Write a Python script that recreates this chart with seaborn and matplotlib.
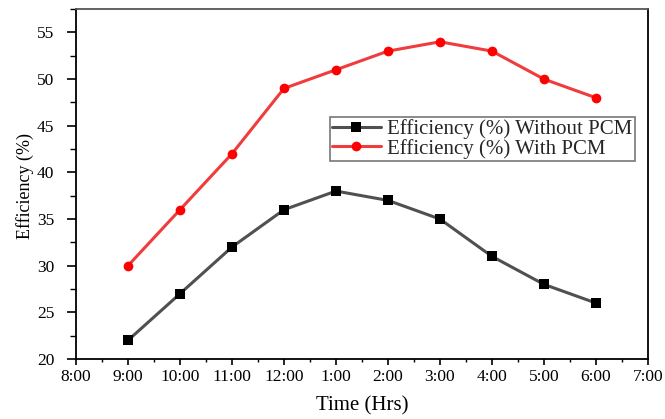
import matplotlib
matplotlib.use("Agg")
import matplotlib.pyplot as plt
from matplotlib.ticker import MultipleLocator
import seaborn as sns
import pandas as pd

tick_labels = ["8:00", "9:00", "10:00", "11:00", "12:00", "1:00", "2:00",
               "3:00", "4:00", "5:00", "6:00", "7:00"]
hours = ["9:00", "10:00", "11:00", "12:00", "1:00", "2:00", "3:00",
         "4:00", "5:00", "6:00"]
without_pcm = [22, 27, 32, 36, 38, 37, 35, 31, 28, 26]
with_pcm = [30, 36, 42, 49, 51, 53, 54, 53, 50, 48]

sns.set_theme(style="ticks")
plt.rcParams["font.family"] = ["Liberation Serif", "DejaVu Serif"]

pos = [tick_labels.index(h) for h in hours]
df = pd.concat([
    pd.DataFrame({"x": pos, "eff": without_pcm, "series": "Efficiency (%) Without PCM"}),
    pd.DataFrame({"x": pos, "eff": with_pcm, "series": "Efficiency (%) With PCM"}),
])

fig = plt.figure(figsize=(6.65, 4.19), dpi=100)
ax = fig.add_axes([0.1143, 0.1432, 0.860, 0.835])

marker_colors = ["black", "#ff0000"]
sns.lineplot(data=df, x="x", y="eff", hue="series", style="series",
             palette=["#505050", "#f03c3c"], markers=["s", "o"], dashes=False,
             linewidth=2.2, markersize=7, markeredgewidth=0, ax=ax)
for line, mc in zip(ax.lines[:2], marker_colors):
    line.set_markerfacecolor(mc)
    line.set_markeredgecolor(mc)

ax.set_xlim(0, 11)
ax.set_ylim(20, 57.5)
ax.set_xticks(range(len(tick_labels)))
ax.set_xticklabels(tick_labels)
ax.xaxis.set_minor_locator(MultipleLocator(0.5))
ax.yaxis.set_major_locator(MultipleLocator(5))
ax.yaxis.set_minor_locator(MultipleLocator(2.5))
ax.tick_params(axis="x", which="major", direction="out", length=4.5, width=1.2,
               labelsize=12.5, pad=3, color="black", labelcolor="black")
ax.tick_params(axis="x", which="minor", direction="out", length=2.5, width=1.0,
               color="black")
ax.tick_params(axis="y", which="major", direction="out", length=6.5, width=1.2,
               labelsize=12.5, pad=9, color="black", labelcolor="black")
ax.tick_params(axis="y", which="minor", direction="out", length=4, width=1.0,
               color="black")
for s in ax.spines.values():
    s.set_linewidth(1.3)
    s.set_color("black")
ax.spines["top"].set_color("#555555")

ax.set_xlabel("Time (Hrs)", fontsize=15, color="black")
ax.xaxis.set_label_coords(0.5, -0.105)
ax.set_ylabel("Efficiency (%)", fontsize=13, color="black")
ax.yaxis.set_label_coords(-0.074, 0.495)

handles, labels = ax.get_legend_handles_labels()
for h, mc in zip(handles, marker_colors):
    h.set_markerfacecolor(mc)
    h.set_markeredgecolor(mc)
    h.set_markersize(7)
leg = ax.legend(handles, labels, loc="upper left", bbox_to_anchor=(0.444, 0.692),
                fontsize=15, frameon=True, fancybox=False, handlelength=2.35,
                borderpad=0.1, labelspacing=0.0, handletextpad=0.3,
                borderaxespad=0)
leg.get_frame().set_edgecolor("#555555")
leg.get_frame().set_linewidth(1.2)

fig.savefig("out.png", dpi=100)
